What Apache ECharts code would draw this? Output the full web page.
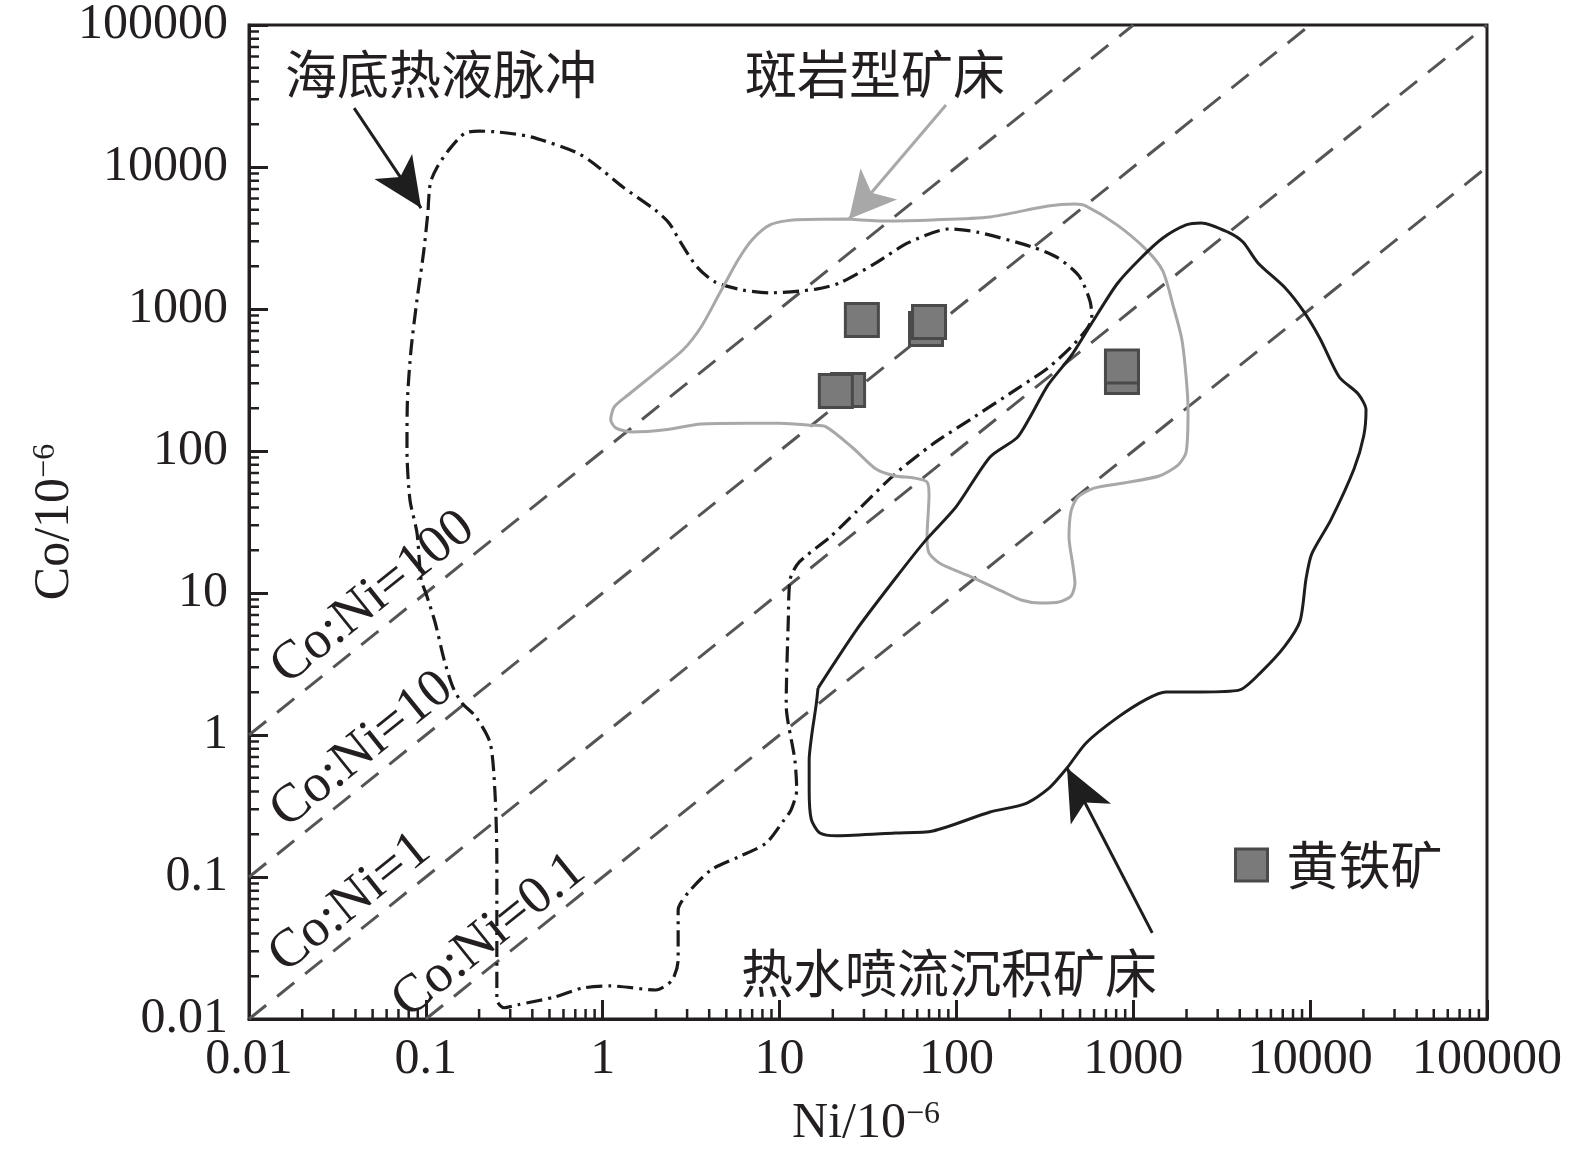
<!DOCTYPE html>
<html><head><meta charset="utf-8">
<script src="https://cdn.jsdelivr.net/npm/echarts@6/dist/echarts.min.js"></script>
<style>html,body{margin:0;padding:0;background:#fff}#c{width:1575px;height:1158px}</style>
</head><body><div id="c"></div>
<script>
// ---- tick labels ----
const xTickLabels = ['0.01','0.1','1','10','100','1000','10000','100000'];
const yTickLabels = ['0.01','0.1','1','10','100','1000','10000','100000'];
const minorMultipliers = [2,3,4,5,6,7,8,9];
const tickDecades = [-2,-1,0,1,2,3,4];

// ---- Co:Ni reference lines [Ni, Co] ----
const ratio100Line = [[0.01,1],[1000,100000]];
const ratio10Line  = [[0.01,0.1],[10000,100000]];
const ratio1Line   = [[0.01,0.01],[100000,100000]];
const ratio01Line  = [[0.1,0.01],[100000,10000]];

// ---- field contours [Ni, Co] ----
const seafloorContour = [
[0.103,4980],[0.106,7710],[0.116,10000],[0.135,13200],[0.166,17300],[0.200,17900],[0.259,17600],[0.393,16300],[0.716,12600],[0.916,10300],[1.30,7230],[1.98,4980],[2.37,4040],[2.77,2920],[3.41,1980],[4.32,1550],[6.21,1360],[8.83,1300],[16.1,1380],[21.7,1520],[35.1,2110],[53.2,2920],[90.8,3660],[131,3480],[267,2740],[375,2290],[493,1710],[569,1140],[583,865],[541,711],[445,540],[330,385],[220,274],[121,168],[73.6,112],[45.0,68.9],[27.4,37.8],[19.3,24.8],[12.9,16.5],[11.5,12.6],[11.2,6.35],[10.9,1.63],[12.2,0.667],[12.5,0.410],[11.6,0.296],[10.6,0.252],[8.38,0.173],[5.82,0.138],[4.09,0.112],[3.03,0.0771],[2.67,0.0586],[2.67,0.0260],[2.47,0.0188],[2.00,0.0160],[1.10,0.0171],[0.764,0.0165],[0.537,0.0143],[0.332,0.0126],[0.277,0.0120],[0.252,0.0136],[0.252,0.0260],[0.252,0.132],[0.246,0.391],[0.231,0.879],[0.192,1.34],[0.160,1.68],[0.142,2.18],[0.127,3.37],[0.113,6.15],[0.100,10.0],[0.0940,12.4],[0.0891,26.5],[0.0813,45.2],[0.0782,102],[0.0787,229],[0.0824,514],[0.0891,1160],[0.0975,2600],[0.103,4980]
];
const porphyryContour = [
[24.4,4310],[39.4,4170],[73.6,4240],[155,4450],[330,5310],[468,5480],[541,5310],[809,3910],[1190,2600],[1470,1850],[1700,1000],[1880,615],[1990,332],[2040,195],[1990,98.4],[1790,79.6],[1400,66.7],[885,59.6],[600,54.8],[486,47.4],[445,37.8],[433,24.8],[456,15.5],[468,11.7],[445,9.53],[380,8.65],[297,8.51],[232,8.93],[181,10.3],[121,13.0],[81.8,16.0],[70.0,19.1],[68.2,24.8],[70.0,49.0],[68.2,60.5],[57.5,64.6],[45.0,66.7],[35.1,74.6],[26.0,105],[18.3,148],[15.1,152],[10.0,157],[6.55,157],[3.60,155],[2.25,141],[1.47,136],[1.19,145],[1.11,165],[1.16,204],[1.39,248],[1.98,354],[2.84,514],[3.60,747],[4.60,1300],[5.82,2210],[6.98,3060],[8.83,3910],[11.9,4240],[24.4,4310]
];
const sedexContour = [
[16.5,2.14],[27.4,5.57],[45.0,12.6],[66.4,23.2],[99.5,40.4],[155,90.8],[220,124],[257,168],[330,292],[445,467],[569,759],[809,1500],[1090,2250],[1470,3160],[1990,3910],[2420,4040],[3430,3480],[4170,2960],[5070,2110],[7210,1410],[9230,953],[11400,615],[14600,332],[18700,252],[20700,195],[20100,128],[17700,74.6],[13100,32.7],[10200,18.8],[9480,12.6],[8770,6.35],[7210,4.24],[5350,2.82],[3960,2.07],[2420,2.01],[1530,2.01],[1190,1.79],[809,1.32],[541,0.879],[422,0.586],[330,0.417],[244,0.327],[155,0.287],[73.6,0.211],[45.0,0.204],[21.1,0.195],[16.9,0.204],[15.1,0.256],[14.7,0.417],[14.7,0.667],[15.2,1.00],[16.1,1.63],[16.5,2.14]
];

// ---- pyrite samples ----
const pyriteNi = [29.2, 67.3, 70.0, 24.4, 20.8, 863, 863];
const pyriteCo = [837, 723, 809, 269, 265, 332, 394];

// ---- annotation arrows [start, tip] ----
const arrowSeafloor = [[0.0393,26000],[0.094,5140]];
const arrowPorphyry = [[87.3,27300],[24.7,4310]];
const arrowSedex    = [[1280,0.0404],[422,0.586]];

const INK = '#231f20';
const serif = 'Liberation Serif, Times New Roman, serif';
const cjk = 'Noto Sans CJK SC, sans-serif';

const xMinor = [], yMinor = [];
tickDecades.forEach(d => minorMultipliers.forEach(m => {
  const v = m * Math.pow(10, d);
  xMinor.push([v, 0.01]);
  yMinor.push([0.01, v]);
}));

function labelFmt(arr){ return v => arr[Math.round(Math.log10(v)) + 2]; }

const chart = echarts.init(document.getElementById('c'), null, {renderer:'canvas'});

function ratioSeries(data){
  return {type:'line', data, symbol:'none', silent:true, z:1,
    lineStyle:{color:'#555555', width:3, type:[22,14]}};
}
function contourSeries(data, color, width, dash){
  return {type:'line', data, symbol:'none', silent:true, smooth:0.25, z:3,
    lineStyle:{color, width, type:dash}};
}
function arrowSeries(pts, color, size){
  return {type:'line', data:[], silent:true, z:4,
    markLine:{silent:true, animation:false, symbol:['none','arrow'], symbolSize:[0,size], label:{show:false},
      lineStyle:{color, width:3, type:'solid'}, emphasis:{disabled:true},
      itemStyle:{color},
      data:[[{coord:pts[0], symbol:'none'},{coord:pts[1], symbol:'arrow', symbolSize:size}]]}};
}

const option = {
  animation:false,
  backgroundColor:'#ffffff',
  grid:{left:249, top:25, width:1238, height:994, show:true, borderColor:INK, borderWidth:3, backgroundColor:'transparent'},
  xAxis:{type:'log', logBase:10, min:0.01, max:100000, splitNumber:7,
    axisLine:{show:true, onZero:false, lineStyle:{color:INK, width:3}},
    axisTick:{show:true, inside:true, length:19, lineStyle:{color:INK, width:3}},
    minorTick:{show:false}, splitLine:{show:false},
    axisLabel:{fontFamily:serif, fontSize:50, color:INK, margin:16, formatter:labelFmt(xTickLabels), showMinLabel:true, showMaxLabel:true}},
  yAxis:{type:'log', logBase:10, min:0.01, max:100000, splitNumber:7,
    axisLine:{show:true, onZero:false, lineStyle:{color:INK, width:3}},
    axisTick:{show:true, inside:true, length:19, lineStyle:{color:INK, width:3}},
    minorTick:{show:false}, splitLine:{show:false},
    axisLabel:{fontFamily:serif, fontSize:50, color:INK, margin:21, formatter:labelFmt(yTickLabels), showMinLabel:true, showMaxLabel:true}},
  legend:{data:['黄铁矿'], left:1234, top:839, padding:0, icon:'rect', itemWidth:32, itemHeight:32,
    itemStyle:{color:'#7a7a7a', borderColor:'#4a4a4a', borderWidth:3},
    textStyle:{fontFamily:cjk, fontSize:52, color:INK, padding:[0,0,0,14]}},
  graphic:[
    {type:'text', x:441, y:74, style:{text:'海底热液脉冲', font:'52px '+cjk, fill:INK, align:'center', verticalAlign:'middle'}},
    {type:'text', x:875, y:74, style:{text:'斑岩型矿床', font:'52px '+cjk, fill:INK, align:'center', verticalAlign:'middle'}},
    {type:'text', x:949, y:973, style:{text:'热水喷流沉积矿床', font:'52px '+cjk, fill:INK, align:'center', verticalAlign:'middle'}},
    {type:'text', x:373, y:598, rotation:0.677, style:{text:'Co:Ni=100', font:'54px '+serif, fill:INK, align:'center', verticalAlign:'middle'}},
    {type:'text', x:362, y:750, rotation:0.677, style:{text:'Co:Ni=10', font:'54px '+serif, fill:INK, align:'center', verticalAlign:'middle'}},
    {type:'text', x:350, y:903, rotation:0.677, style:{text:'Co:Ni=1', font:'54px '+serif, fill:INK, align:'center', verticalAlign:'middle'}},
    {type:'text', x:489, y:936, rotation:0.677, style:{text:'Co:Ni=0.1', font:'54px '+serif, fill:INK, align:'center', verticalAlign:'middle'}},
    {type:'text', x:55, y:522, rotation:Math.PI/2, style:{text:'Co/10{s|−6}', font:'50px '+serif, fill:INK, align:'center', verticalAlign:'middle',
      rich:{s:{fontFamily:serif, fontSize:32, verticalAlign:'top', fill:INK}}}},
    {type:'text', x:866, y:1124, style:{text:'Ni/10{s|−6}', font:'50px '+serif, fill:INK, align:'center', verticalAlign:'middle',
      rich:{s:{fontFamily:serif, fontSize:32, verticalAlign:'top', fill:INK}}}}
  ],
  series:[
    ratioSeries(ratio100Line), ratioSeries(ratio10Line), ratioSeries(ratio1Line), ratioSeries(ratio01Line),
    contourSeries(seafloorContour, '#1a1a1a', 3.2, [16,6,3,6]),
    contourSeries(porphyryContour, '#a8a8a8', 3, 'solid'),
    contourSeries(sedexContour, '#1e1e1e', 3, 'solid'),
    {type:'custom', silent:true, z:5, data:xMinor, renderItem:(p, api) => {
      const pt = api.coord([api.value(0), api.value(1)]);
      return {type:'line', shape:{x1:pt[0], y1:pt[1], x2:pt[0], y2:pt[1]-10}, style:{stroke:INK, lineWidth:2.5}};
    }},
    {type:'custom', silent:true, z:5, data:yMinor, renderItem:(p, api) => {
      const pt = api.coord([api.value(0), api.value(1)]);
      return {type:'line', shape:{x1:pt[0], y1:pt[1], x2:pt[0]+10, y2:pt[1]}, style:{stroke:INK, lineWidth:2.5}};
    }},
    {name:'黄铁矿', type:'scatter', z:6, symbol:'rect', symbolSize:33,
      data: pyriteNi.map((n,i) => [n, pyriteCo[i]]),
      itemStyle:{color:'#7a7a7a', borderColor:'#4a4a4a', borderWidth:3, opacity:1}},
    arrowSeries(arrowSeafloor, '#1e1e1e', [34,50]),
    arrowSeries(arrowPorphyry, '#a8a8a8', [36,46]),
    arrowSeries(arrowSedex, '#1e1e1e', [34,52])
  ]
};
chart.setOption(option);
</script>
</body></html>
